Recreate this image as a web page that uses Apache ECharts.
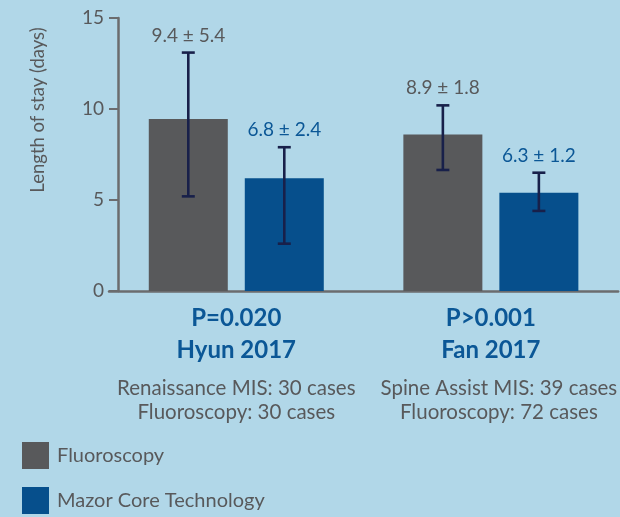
<!DOCTYPE html>
<html>
<head>
<meta charset="utf-8">
<script src="https://cdn.jsdelivr.net/npm/echarts@6/dist/echarts.min.js"></script>
<style>
html,body{margin:0;padding:0;background:#b1d7e8;}
#c{width:620px;height:517px;}
</style>
</head>
<body>
<div id="c"></div>
<script>
// ---- data ----
var categories = ['Hyun 2017', 'Fan 2017'];
var pValues = ['P=0.020', 'P>0.001'];
var subLines1 = ['Renaissance MIS: 30 cases', 'Spine Assist MIS: 39 cases'];
var subLines2 = ['Fluoroscopy: 30 cases', 'Fluoroscopy: 72 cases'];
var seriesNames = ['Fluoroscopy', 'Mazor Core Technology'];
var fluoroValues = [9.45, 8.6];
var mazorValues = [6.2, 5.4];
var fluoroErrLow = [5.2, 6.65];
var fluoroErrHigh = [13.1, 10.2];
var mazorErrLow = [2.6, 4.4];
var mazorErrHigh = [7.9, 6.5];
var fluoroLabels = ['9.4 ± 5.4', '8.9 ± 1.8'];
var mazorLabels = ['6.8 ± 2.4', '6.3 ± 1.2'];
var yTicks = [0, 5, 10, 15];

// ---- styles ----
var FONT = 'Lato, "Open Sans", sans-serif';
var GRAY = '#58595b';
var BLUE = '#064f8c';
var TEXT_GRAY = '#58595b';
var TEXT_BLUE = '#0b5796';
var ERR = '#18204a';
var BAR_W = 79;
var GAP_PX = 17;
var OFFSET = (BAR_W + GAP_PX) / 2;

function errSeries(lows, highs, labels, offset, labelColor) {
  var data = categories.map(function (c, i) { return [i, lows[i], highs[i]]; });
  return {
    type: 'custom',
    z: 10,
    silent: true,
    data: data,
    encode: { x: 0, y: [1, 2] },
    renderItem: function (params, api) {
      var i = api.value(0);
      var lo = api.coord([i, api.value(1)]);
      var hi = api.coord([i, api.value(2)]);
      var x = lo[0] + offset;
      var cap = 6.5;
      var st = { stroke: ERR, lineWidth: 2.6 };
      return {
        type: 'group',
        children: [
          { type: 'line', shape: { x1: x, y1: hi[1], x2: x, y2: lo[1] }, style: st },
          { type: 'line', shape: { x1: x - cap, y1: hi[1], x2: x + cap, y2: hi[1] }, style: st },
          { type: 'line', shape: { x1: x - cap, y1: lo[1], x2: x + cap, y2: lo[1] }, style: st },
          { type: 'text', style: { x: x, y: hi[1] - 17, text: labels[params.dataIndex], fill: labelColor,
              font: '19px ' + FONT, textAlign: 'center', textVerticalAlign: 'middle' } }
        ]
      };
    }
  };
}

function legendFor(name, top) {
  return {
    orient: 'vertical', left: 17, top: top, itemWidth: 27, itemHeight: 27, itemGap: 18,
    icon: 'rect', data: [name], selectedMode: false,
    textStyle: { fontSize: 20, color: TEXT_GRAY, fontFamily: FONT, padding: [0, 0, 0, 3] }
  };
}

var chart = echarts.init(document.getElementById('c'));
chart.setOption({
  backgroundColor: '#b1d7e8',
  animation: false,
  textStyle: { fontFamily: FONT },
  grid: { left: 109, right: 1, top: 18, bottom: 226, containLabel: false },
  legend: [legendFor(seriesNames[0], 437), legendFor(seriesNames[1], 482)],
  graphic: [{
    type: 'text', x: 38, y: 110, rotation: Math.PI / 2,
    style: { text: 'Length of stay (days)', fill: TEXT_GRAY, font: '18.5px ' + FONT,
      textAlign: 'center', textVerticalAlign: 'middle' }
  }],
  xAxis: {
    type: 'category', data: categories,
    axisLine: { lineStyle: { color: '#6b6c6e', width: 2.5 } },
    axisTick: { show: false },
    axisLabel: {
      margin: 11, interval: 0,
      formatter: function (v, i) {
        var s = i === 1 ? 'b' : 'a';
        return '{p|' + pValues[i] + '}\n{p|' + categories[i] + '}\n{s1' + s + '|' + subLines1[i] + '}\n{g|\u00a0}\n{s2' + s + '|' + subLines2[i] + '}';
      },
      rich: {
        p: { fontSize: 24, fontWeight: 'bold', color: TEXT_BLUE, lineHeight: 32, fontFamily: FONT },
        g: { fontSize: 1, lineHeight: 1 },
        s1a: { fontSize: 20.5, color: TEXT_GRAY, lineHeight: 30, padding: [14, 0, 0, 0], fontFamily: FONT },
        s2a: { fontSize: 20.5, color: TEXT_GRAY, lineHeight: 30, fontFamily: FONT },
        s1b: { fontSize: 20.5, color: TEXT_GRAY, lineHeight: 30, padding: [14, 0, 0, 16], fontFamily: FONT },
        s2b: { fontSize: 20.5, color: TEXT_GRAY, lineHeight: 30, padding: [0, 0, 0, 16], fontFamily: FONT }
      }
    }
  },
  yAxis: {
    type: 'value', min: yTicks[0], max: yTicks[yTicks.length - 1], interval: 5,
    offset: -9,
    splitLine: { show: false },
    axisLine: { show: true, lineStyle: { color: '#6b6c6e', width: 2.5 } },
    axisTick: { show: true, length: 9, inside: false, lineStyle: { color: '#6b6c6e', width: 2 } },
    axisLabel: { fontSize: 19, color: TEXT_GRAY, margin: 14, fontFamily: FONT }
  },
  series: [
    { name: seriesNames[0], type: 'bar', data: fluoroValues, barWidth: BAR_W, barGap: (GAP_PX / BAR_W * 100) + '%',
      itemStyle: { color: GRAY } },
    { name: seriesNames[1], type: 'bar', data: mazorValues, barWidth: BAR_W,
      itemStyle: { color: BLUE } },
    errSeries(fluoroErrLow, fluoroErrHigh, fluoroLabels, -OFFSET, TEXT_GRAY),
    errSeries(mazorErrLow, mazorErrHigh, mazorLabels, OFFSET, TEXT_BLUE)
  ]
});
</script>
</body>
</html>
